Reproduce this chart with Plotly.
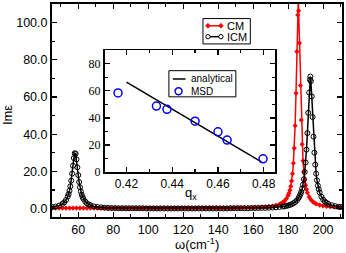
import plotly.graph_objects as go

# ---------------- main spectrum data ----------------
cm_x = [45, 47, 49, 51, 53, 55, 57, 59, 61, 63, 65, 67, 69, 71, 73, 75, 77, 79, 81, 83,
        85, 87, 89, 91, 93, 95, 97, 99, 101, 103, 105, 107, 109, 111, 113, 115, 117, 119,
        121, 123, 125, 127, 129, 131, 133, 135, 137, 139, 141, 143, 145, 147, 149, 151,
        153, 155, 157, 159, 161, 163, 165, 167, 169, 171, 173, 175,
        176, 177, 178, 179, 180, 180.5, 181, 181.5, 182, 182.5, 183, 183.5, 184, 184.5,
        185, 185.5, 185.8, 186, 186.5, 187, 187.5, 188, 188.5, 189, 189.5, 190, 190.5, 191,
        192, 193, 194, 195, 196, 198, 200, 202, 204, 206, 208, 210]
cm_y = [0.3] * 42 + [0.4] * 11 + [0.5, 0.5, 0.6, 0.6, 0.6, 0.7, 0.8, 0.9, 1.0, 1.2, 1.4, 1.8, 2.3,
        2.8, 3.4, 4.2, 5.3, 7.1, 8.3, 9.9, 12.0, 14.9, 18.8, 24.4, 32.5, 44.6, 62.0,
        84.4, 104.1, 112.0, 106.4, 89.0, 66.2, 47.6, 34.6, 25.8, 19.8, 15.5, 12.5, 10.3, 8.6,
        6.3, 4.8, 3.8, 3.1, 2.6, 1.9, 1.5, 1.2, 1.0, 0.9, 0.8, 0.7]

icm_x = [45, 47, 49, 51, 52, 53, 54, 54.5, 55, 55.5, 56, 56.5, 57, 57.5, 58, 58.5, 59,
         59.5, 60, 60.5, 61, 61.5, 62, 62.5, 63, 64, 65, 66, 67, 69, 71, 73, 75, 77, 79,
         81, 83, 85, 87, 89, 91, 93, 95, 97, 99, 101, 103, 105, 107, 109, 111, 113, 115,
         117, 119, 121, 123, 125, 127, 129, 131, 133, 135, 137, 139, 141, 143, 145, 147,
         149, 151, 153, 155, 157, 159, 161, 163, 165, 167, 169, 171, 173, 175, 177,
         178, 179, 180, 181, 182, 183, 184, 185, 186, 186.5, 187, 187.5, 188, 188.5, 189,
         189.5, 190, 190.5, 191, 191.5, 192, 192.5, 192.7, 193, 193.5, 194, 194.5, 195, 195.5,
         196, 196.5, 197, 197.5, 198, 199, 200, 201, 202, 203, 205, 207, 209, 210]
icm_y = [0.8, 1.1, 1.6, 2.6, 3.4, 4.6, 6.5, 7.8, 9.6, 12.0, 15.0, 18.8, 23.1, 27.2, 29.8,
         29.5, 26.5, 22.2, 18.0, 14.3, 11.5, 9.2, 7.5, 6.2, 5.2, 3.8, 2.8, 2.2, 1.8, 1.2,
         0.9, 0.7, 0.5, 0.4, 0.3,
         0.3] + [0.2] * 8 + [0.1] * 21 + [0.1, 0.1, 0.1, 0.2, 0.2, 0.2, 0.2, 0.2, 0.2,
         0.3, 0.3, 0.3, 0.4, 0.4, 0.5, 0.6, 0.7, 0.9, 1.1,
         1.3, 1.5, 1.7, 2.0, 2.4, 2.9, 3.5, 4.4, 5.7, 6.6, 7.7, 9.0, 10.7, 12.9, 15.8,
         19.7, 24.8, 31.7, 40.6, 51.5, 62.4, 69.3, 71.0, 68.5, 60.3, 49.2, 38.7, 30.1, 23.6,
         18.8, 15.2, 12.4, 10.4, 8.7, 6.4, 4.9, 3.8, 3.1, 2.5, 1.8, 1.3, 1.0, 0.9]

# ---------------- inset data ----------------
ana_x = [0.42, 0.479]
ana_y = [66.5, 7.5]
msd_x = [0.4163, 0.4331, 0.4377, 0.4500, 0.4600, 0.4640, 0.4797]
msd_y = [58.5, 48.8, 46.4, 37.6, 29.8, 23.7, 9.8]

main_xticks = [60, 80, 100, 120, 140, 160, 180, 200]
main_yticks = [0, 20, 40, 60, 80, 100]
inset_xticks = [0.42, 0.44, 0.46, 0.48]
inset_yticks = [0, 20, 40, 60, 80]

SANS = "Liberation Sans, Arial, sans-serif"
SERIF = "Liberation Serif, Times New Roman, serif"
RED = "#ff0000"
BLUE = "#0000ff"

fig = go.Figure()
fig.add_trace(go.Scatter(x=cm_x, y=cm_y, mode="lines+markers", name="CM",
                         line=dict(color=RED, width=1.5),
                         marker=dict(symbol="diamond", size=4, color=RED),
                         xaxis="x", yaxis="y", showlegend=False, cliponaxis=True))
fig.add_trace(go.Scatter(x=icm_x, y=icm_y, mode="lines+markers", name="ICM",
                         line=dict(color="#000000", width=1.5),
                         marker=dict(symbol="circle-open", size=5, color="#000000",
                                     line=dict(width=1)),
                         xaxis="x", yaxis="y", showlegend=False))
fig.add_trace(go.Scatter(x=ana_x, y=ana_y, mode="lines", name="analytical",
                         line=dict(color="#000000", width=1.5),
                         xaxis="x2", yaxis="y2", showlegend=False))
fig.add_trace(go.Scatter(x=msd_x, y=msd_y, mode="markers", name="MSD",
                         marker=dict(symbol="circle-open", size=8, color=BLUE,
                                     line=dict(width=1.5)),
                         xaxis="x2", yaxis="y2", showlegend=False))

L, R, T, B = 52, 3, 2, 36
W, H = 346, 253
PW = W - L - R
PH = H - T - B


def px(xp):
    return (xp - L) / PW


def py(yp):
    return (H - B - yp) / PH


def axis_common(lw):
    return dict(showline=True, linecolor="black", linewidth=lw, mirror="ticks",
                ticks="inside", tickcolor="black", tickwidth=1.2, showgrid=False,
                zeroline=False)


shapes = []
annotations = []


def rect(x0, y0, x1, y1):
    shapes.append(dict(type="rect", xref="paper", yref="paper", x0=px(x0), x1=px(x1),
                       y0=py(y1), y1=py(y0), line=dict(color="black", width=1),
                       fillcolor="white", layer="above"))


def seg(x0, y0, x1, y1, color, width=1.5):
    shapes.append(dict(type="line", xref="paper", yref="paper", x0=px(x0), x1=px(x1),
                       y0=py(y0), y1=py(y1), line=dict(color=color, width=width),
                       layer="above"))


def circ(cx, cy, r, color, width=1.0):
    shapes.append(dict(type="circle", xref="paper", yref="paper", x0=px(cx - r),
                       x1=px(cx + r), y0=py(cy + r), y1=py(cy - r),
                       line=dict(color=color, width=width), fillcolor="white",
                       layer="above"))


def diamond(cx, cy, r, color):
    path = "M {} {} L {} {} L {} {} L {} {} Z".format(
        px(cx - r), py(cy), px(cx), py(cy - r), px(cx + r), py(cy), px(cx), py(cy + r))
    shapes.append(dict(type="path", xref="paper", yref="paper", path=path,
                       line=dict(color=color, width=1), fillcolor=color, layer="above"))


def label(text, x, y, size, family=SANS, xanchor="left", angle=0):
    annotations.append(dict(text=text, x=px(x), y=py(y), xref="paper", yref="paper",
                            xanchor=xanchor, yanchor="middle", showarrow=False,
                            textangle=angle,
                            font=dict(family=family, size=size, color="black")))


# main legend (CM / ICM)
rect(203.5, 16.7, 251, 42.3)
seg(207, 24, 223, 24, RED)
diamond(208.5, 24, 2.3, RED)
diamond(221.5, 24, 2.3, RED)
seg(207, 35, 223, 35, "black")
circ(208.5, 35, 2.2, "black")
circ(221.5, 35, 2.2, "black")
label("CM", 226, 24, 11)
label("ICM", 226, 35, 11)

# inset legend (analytical / MSD)
rect(169.3, 69.3, 236.5, 95.7)
seg(173.3, 77.7, 186, 77.7, "black")
circ(179, 90, 3.5, BLUE, 1.5)
label("analytical", 189.5, 77.7, 10)
label("MSD", 189.5, 90, 10)

# axis titles
label("ω(cm<sup>-1</sup>)", 197.5, 244, 13, xanchor="center")
label("Imε", 8, 114, 13, xanchor="center", angle=-90)
label("q<sub>x</sub>", 191, 193, 13, xanchor="center")

fig.update_layout(
    width=W, height=H,
    margin=dict(l=L, r=R, t=T, b=B, pad=0),
    paper_bgcolor="white", plot_bgcolor="white",
    showlegend=False,
    xaxis=dict(range=[45, 210.8], tickvals=main_xticks, ticklen=5,
               minor=dict(dtick=10, tick0=0, ticklen=3, ticks="inside", tickcolor="black"),
               tickfont=dict(family=SANS, size=12.5, color="black"), **axis_common(2)),
    yaxis=dict(range=[-4.5, 110], tickvals=main_yticks, tickformat=".1f", ticklen=5,
               minor=dict(dtick=10, tick0=0, ticklen=3, ticks="inside", tickcolor="black"),
               tickfont=dict(family=SANS, size=12.5, color="black"), **axis_common(2)),
    xaxis2=dict(domain=[px(104.7), px(275.7)], anchor="y2", range=[0.4104, 0.4849],
                tickvals=inset_xticks, tickformat=".2f", ticklen=5,
                minor=dict(dtick=0.01, tick0=0.41, ticklen=3, ticks="inside", tickcolor="black"),
                tickfont=dict(family=SANS, size=12, color="black"), **axis_common(1.7)),
    yaxis2=dict(domain=[py(171.7), py(48.7)], anchor="x2", range=[0, 90],
                tickvals=inset_yticks, ticklen=5,
                minor=dict(dtick=10, tick0=0, ticklen=3, ticks="inside", tickcolor="black"),
                tickfont=dict(family=SERIF, size=12, color="black"), **axis_common(1.7)),
    shapes=shapes,
    annotations=annotations,
)

fig.write_html("out.html",
               config={"displayModeBar": False, "staticPlot": True},
               post_script="document.body.style.margin='0';document.body.style.overflow='hidden';")
